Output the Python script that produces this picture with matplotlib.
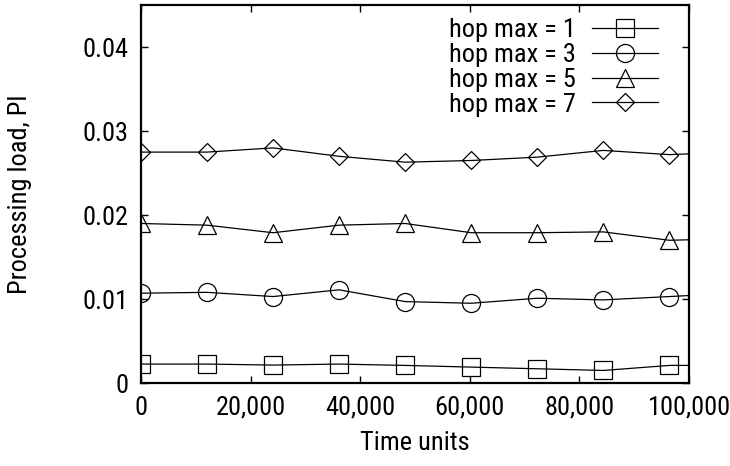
import matplotlib
matplotlib.use("Agg")
import matplotlib.pyplot as plt

plt.rcParams['font.family'] = ['Roboto Condensed', 'Archivo Narrow', 'DejaVu Sans']

# sample times (the last one is past the axis end, the line runs off the edge)
times = [0, 12050, 24100, 36150, 48200, 60250, 72300, 84350, 96400, 108450]

hop1 = [0.00226, 0.00226, 0.00214, 0.00226, 0.0021, 0.0019, 0.0017, 0.0015, 0.0021, 0.0021]
hop3 = [0.0107, 0.0108, 0.0103, 0.0111, 0.0097, 0.0095, 0.0101, 0.0099, 0.0103, 0.0107]
hop5 = [0.0190, 0.0188, 0.0179, 0.0188, 0.0190, 0.0179, 0.0179, 0.0180, 0.0170, 0.0172]
hop7 = [0.0275, 0.0275, 0.0280, 0.0270, 0.0263, 0.0265, 0.0269, 0.0277, 0.0272, 0.0275]

labels = ['hop max = 1', 'hop max = 3', 'hop max = 5', 'hop max = 7']
markers = ['s', 'o', '^', 'D']
sizes = [13, 13, 13, 9.5]

xticks = [0, 20000, 40000, 60000, 80000, 100000]
xticklabels = ['0', '20,000', '40,000', '60,000', '80,000', '100,000']
yticks = [0, 0.01, 0.02, 0.03, 0.04]
yticklabels = ['0', '0.01', '0.02', '0.03', '0.04']

fig = plt.figure(figsize=(7.3, 4.66), dpi=100)
ax = fig.add_axes([0.193, 0.178, 0.751, 0.811])

for ys, lab, m, ms in zip([hop1, hop3, hop5, hop7], labels, markers, sizes):
    ax.plot(times, ys, color='black', linewidth=0.9, marker=m, markersize=ms,
            markerfacecolor='none', markeredgecolor='black', markeredgewidth=0.9,
            label=lab, clip_on=True)

ax.set_xlim(0, 100000)
ax.set_ylim(0, 0.045)
ax.set_xticks(xticks)
ax.set_xticklabels(xticklabels)
ax.set_yticks(yticks)
ax.set_yticklabels(yticklabels)
ax.tick_params(direction='in', length=5, width=1, top=True, right=True,
               labelsize=19, pad=9)
for s in ax.spines.values():
    s.set_linewidth(1.6)

ax.set_xlabel('Time units', fontsize=19, labelpad=8)
ax.set_ylabel('Processing load, Pl', fontsize=19, labelpad=36)

leg = ax.legend(loc='upper right', frameon=False, markerfirst=False, fontsize=19,
                handlelength=2.5, labelspacing=0.03, handletextpad=0.6,
                borderaxespad=0.1, bbox_to_anchor=(0.967, 1.0))

fig.savefig('out.png', dpi=100)
